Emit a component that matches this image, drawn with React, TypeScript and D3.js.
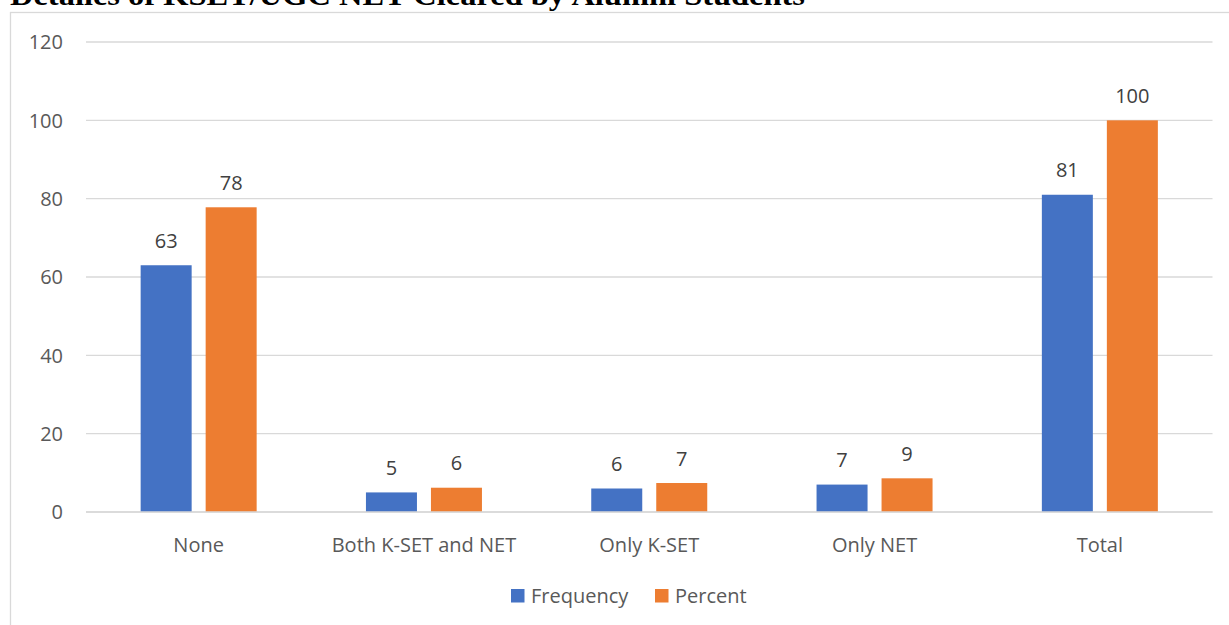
import React from "react";
import * as d3 from "d3";

const categories = ["None", "Both K-SET and NET", "Only K-SET", "Only NET", "Total"];
const seriesNames = ["Frequency", "Percent"];
const frequency = [63, 5, 6, 7, 81];
const percent = [77.8, 6.2, 7.4, 8.6, 100];
const yTicks = [0, 20, 40, 60, 80, 100, 120];
const colors = ["#4472C4", "#ED7D31"];
const title = "Detailes of KSET/UGC NET Cleared by Alumni Students";

const W = 1229;
const H = 625;
const FONT = "'Open Sans', sans-serif";

export default function App() {
  const left = 86;
  const right = 1212.5;
  const top = 42;
  const bottom = 512;

  const x0 = d3.scaleBand<string>().domain(categories).range([left, right]).padding(0);
  const groupW = 116;
  const x1 = d3
    .scaleBand<string>()
    .domain(seriesNames)
    .range([0, groupW])
    .paddingInner(0.2154)
    .paddingOuter(0);
  const y = d3.scaleLinear().domain([0, 120]).range([bottom, top]);
  const fmt = d3.format(".0f");
  const values = [frequency, percent];

  return (
    <svg
      width={W}
      height={H}
      style={{ position: "absolute", left: 0, top: 0, display: "block", background: "#fff" }}
    >
      <rect x={10.5} y={12.5} width={1300} height={700} fill="#fff" stroke="#d9d9d9" strokeWidth={1.3} />
      <text
        x={10}
        y={5}
        fontFamily="'Liberation Serif', serif"
        fontWeight="bold"
        fontSize={29}
        fill="#000"
        textLength={795}
        lengthAdjust="spacingAndGlyphs"
      >
        {title}
      </text>
      {yTicks.map((t) => (
        <g key={t}>
          <line x1={left} x2={right} y1={y(t)} y2={y(t)} stroke="#d9d9d9" strokeWidth={1.3} />
          <text
            x={63}
            y={y(t)}
            dy="0.36em"
            textAnchor="end"
            fontFamily={FONT}
            fontSize={20}
            fill="#595959"
          >
            {t}
          </text>
        </g>
      ))}
      {categories.map((c, i) => {
        const gx = (x0(c) as number) + (x0.bandwidth() - groupW) / 2;
        return (
          <g key={c}>
            {seriesNames.map((s, j) => {
              const v = values[j][i];
              const bx = gx + (x1(s) as number);
              return (
                <g key={s}>
                  <rect x={bx} y={y(v)} width={x1.bandwidth()} height={y(0) - y(v)} fill={colors[j]} />
                  <text
                    x={bx + x1.bandwidth() / 2}
                    y={y(v) - 17.5}
                    textAnchor="middle"
                    fontFamily={FONT}
                    fontSize={20}
                    fill="#404040"
                  >
                    {fmt(v)}
                  </text>
                </g>
              );
            })}
            <text
              x={(x0(c) as number) + x0.bandwidth() / 2}
              y={552}
              textAnchor="middle"
              fontFamily={FONT}
              fontSize={20}
              fill="#595959"
            >
              {c}
            </text>
          </g>
        );
      })}
      <line x1={left} x2={right} y1={y(0)} y2={y(0)} stroke="#d9d9d9" strokeWidth={1.3} />
      <g>
        <rect x={511} y={589} width={13.5} height={13.5} fill={colors[0]} />
        <text x={531} y={603} fontFamily={FONT} fontSize={20} fill="#595959">
          {seriesNames[0]}
        </text>
        <rect x={655} y={589} width={13.5} height={13.5} fill={colors[1]} />
        <text x={675} y={603} fontFamily={FONT} fontSize={20} fill="#595959">
          {seriesNames[1]}
        </text>
      </g>
    </svg>
  );
}
